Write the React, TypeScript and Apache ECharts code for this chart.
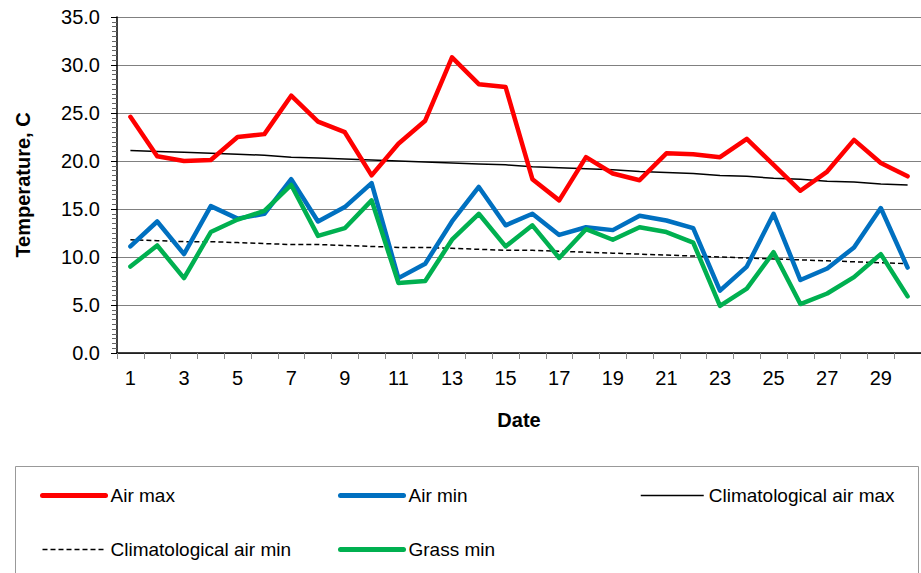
import React, { useEffect, useRef } from "react";
import * as echarts from "echarts";

const days = Array.from({ length: 30 }, (_, i) => String(i + 1));

const airMax = [24.6, 20.5, 20.0, 20.1, 22.5, 22.8, 26.8, 24.1, 23.0, 18.5, 21.8, 24.2, 30.8, 28.0, 27.7, 18.1, 15.9, 20.4, 18.7, 18.0, 20.8, 20.7, 20.4, 22.3, 19.6, 16.9, 18.9, 22.2, 19.8, 18.4];
const airMin = [11.1, 13.7, 10.3, 15.3, 14.0, 14.5, 18.1, 13.7, 15.2, 17.7, 7.8, 9.3, 13.7, 17.3, 13.3, 14.5, 12.3, 13.1, 12.8, 14.3, 13.8, 13.0, 6.5, 9.0, 14.5, 7.6, 8.8, 11.0, 15.1, 8.9];
const climMax = [21.1, 21.0, 20.9, 20.8, 20.7, 20.6, 20.4, 20.3, 20.2, 20.1, 20.0, 19.9, 19.8, 19.7, 19.6, 19.4, 19.3, 19.2, 19.1, 18.9, 18.8, 18.7, 18.5, 18.4, 18.2, 18.1, 17.9, 17.8, 17.6, 17.5];
const climMin = [11.8, 11.7, 11.6, 11.6, 11.5, 11.4, 11.3, 11.3, 11.2, 11.1, 11.0, 11.0, 10.9, 10.8, 10.7, 10.7, 10.6, 10.5, 10.4, 10.3, 10.2, 10.1, 10.0, 9.9, 9.8, 9.7, 9.6, 9.5, 9.4, 9.3];
const grassMin = [9.0, 11.2, 7.8, 12.6, 13.9, 14.8, 17.5, 12.2, 13.0, 15.9, 7.3, 7.5, 11.8, 14.5, 11.1, 13.3, 9.9, 12.9, 11.8, 13.1, 12.6, 11.5, 4.9, 6.7, 10.5, 5.1, 6.2, 7.9, 10.3, 5.9];

const FONT = "'Liberation Sans', Arial, sans-serif";

export default function App() {
  const ref = useRef<HTMLDivElement>(null);
  useEffect(() => {
    if (!ref.current) return;
    const chart = echarts.init(ref.current, null, { renderer: "svg" });
    const thick = (name: string, data: number[], color: string) => ({
      name,
      type: "line",
      data,
      symbol: "none",
      lineStyle: { color, width: 4.5, join: "round", cap: "round" },
      itemStyle: { color },
      z: 3,
    });
    const legendCommon = {
      orient: "vertical",
      top: 486,
      padding: 0,
      itemWidth: 63,
      itemHeight: 14,
      itemGap: 35,
      itemStyle: { opacity: 0 },
      textStyle: { fontFamily: FONT, fontSize: 19, color: "#000" },
      selectedMode: false,
    };
    const thickItem = (name: string) => ({ name, lineStyle: { width: 5, cap: "round" } });
    const thinItem = (name: string, dashed?: boolean) => ({
      name,
      lineStyle: { width: 1.5, type: dashed ? [5, 3] : "solid" },
    });
    chart.setOption({
      animation: false,
      textStyle: { fontFamily: FONT },
      grid: { left: 117, top: 17, right: -3, bottom: 220, containLabel: false },
      xAxis: {
        type: "category",
        data: days,
        boundaryGap: true,
        name: "Date",
        nameLocation: "middle",
        nameGap: 57,
        nameTextStyle: { fontFamily: FONT, fontSize: 20, fontWeight: "bold", color: "#000" },
        axisLine: { lineStyle: { color: "#000", width: 1.5 } },
        axisTick: { show: true, interval: 0, length: 6, lineStyle: { color: "#888" } },
        axisLabel: { interval: 1, fontFamily: FONT, fontSize: 20, color: "#000", margin: 15 },
        splitLine: { show: false },
      },
      yAxis: {
        type: "value",
        min: 0,
        max: 35,
        interval: 5,
        name: "Temperature, C",
        nameLocation: "middle",
        nameGap: 84,
        nameTextStyle: { fontFamily: FONT, fontSize: 20, fontWeight: "bold", color: "#000" },
        axisLine: { show: true, lineStyle: { color: "#000", width: 1.5 } },
        axisTick: { show: true, length: 6, lineStyle: { color: "#000" } },
        minorTick: { show: true, splitNumber: 10, length: 5, lineStyle: { color: "#666" } },
        axisLabel: {
          fontFamily: FONT,
          fontSize: 20,
          color: "#000",
          margin: 17,
          formatter: (v: number) => v.toFixed(1),
        },
        splitLine: { show: true, lineStyle: { color: "#808080", width: 1 } },
      },
      legend: [
        { ...legendCommon, left: 40, data: [thickItem("Air max"), thinItem("Climatological air min", true)] },
        { ...legendCommon, left: 338, data: [thickItem("Air min"), thickItem("Grass min")] },
        { ...legendCommon, left: 640, data: [thinItem("Climatological air max")] },
      ],
      graphic: [
        {
          type: "rect",
          shape: { x: 15.5, y: 466.5, width: 903, height: 140 },
          style: { fill: "none", stroke: "#999", lineWidth: 1 },
          silent: true,
        },
      ],
      series: [
        thick("Air max", airMax, "#ff0000"),
        thick("Air min", airMin, "#0070c0"),
        {
          name: "Climatological air max",
          type: "line",
          data: climMax,
          symbol: "none",
          lineStyle: { color: "#000", width: 1.5 },
          itemStyle: { color: "#000" },
          z: 2,
        },
        {
          name: "Climatological air min",
          type: "line",
          data: climMin,
          symbol: "none",
          lineStyle: { color: "#000", width: 1.5, type: [5, 3] },
          itemStyle: { color: "#000" },
          z: 2,
        },
        thick("Grass min", grassMin, "#00b050"),
      ],
    });
    return () => chart.dispose();
  }, []);
  return (
    <div
      ref={ref}
      style={{ position: "fixed", left: 0, top: 0, width: 921, height: 573, background: "#fff" }}
    />
  );
}
